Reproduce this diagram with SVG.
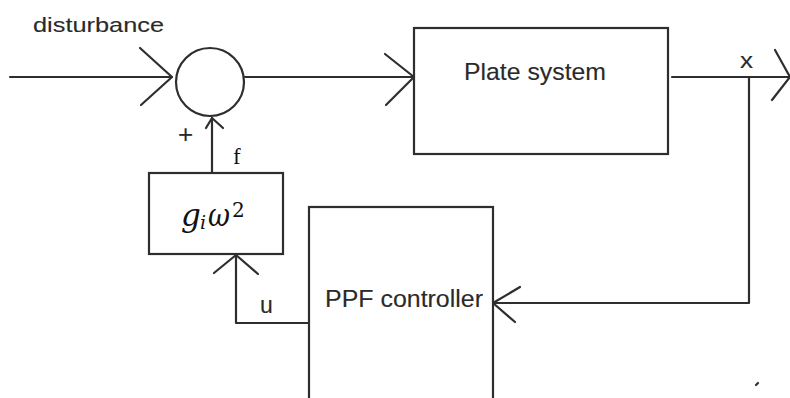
<svg xmlns="http://www.w3.org/2000/svg" width="790" height="398" viewBox="0 0 790 398">
<style>
.ln{fill:none;stroke:#2e2e2e;stroke-width:2.2;stroke-linecap:round;stroke-linejoin:round}
.box{fill:#fff;stroke:#2e2e2e;stroke-width:2.2}
.sans{font-family:"Liberation Sans",Arial,sans-serif;fill:#2a2a2a;stroke:#2a2a2a;stroke-width:0.12}
.serif{font-family:"DejaVu Serif","Liberation Serif",serif;fill:#111}
</style>
<rect width="790" height="398" fill="#fff"/>
<g id="connectors">
<path class="ln" d="M10 77 H172"/>
<path class="ln" d="M140 48 L172 77 L141 105"/>
<path class="ln" d="M245 77 H414"/>
<path class="ln" d="M385 54 L414 77 L386 105"/>
<path class="ln" d="M672 77 H790"/>
<path class="ln" d="M775 50 L790 77 L772 100"/>
<path class="ln" d="M749 77 V303 H493"/>
<path class="ln" d="M520 287 L493 303 L515 322"/>
<path class="ln" d="M212 173 V118"/>
<path class="ln" d="M206 128 L212 118 L223 128"/>
<path class="ln" d="M309 323 H236 V255"/>
<path class="ln" d="M214 273 L236 255 L258 274"/>
<path class="ln" d="M756 385 L758 383" stroke-width="1.5"/>
</g>
<g id="sum">
<circle class="box" cx="210" cy="82" r="34"/>
</g>
<g id="plate">
<rect class="box" x="414" y="28" width="254" height="126"/>
<text class="sans" x="464" y="80" font-size="24" textLength="142" lengthAdjust="spacingAndGlyphs">Plate system</text>
</g>
<g id="gain">
<rect class="box" x="149" y="173" width="134" height="81"/>
<text class="serif" font-style="italic"><tspan x="181" y="226" font-size="31">g</tspan><tspan x="200" y="229" font-size="19">i</tspan><tspan x="208" y="226" font-size="31" textLength="22" lengthAdjust="spacingAndGlyphs">ω</tspan><tspan x="232" y="217" font-style="normal" font-size="20">2</tspan></text>
</g>
<g id="ppf">
<rect class="box" x="309" y="207" width="184" height="200"/>
<text class="sans" x="325" y="307" font-size="23" textLength="158" lengthAdjust="spacingAndGlyphs">PPF controller</text>
</g>
<g id="labels">
<text class="sans" x="33" y="32" font-size="21" textLength="131" lengthAdjust="spacingAndGlyphs">disturbance</text>
<text class="sans" x="740" y="68" font-size="22" textLength="13" lengthAdjust="spacingAndGlyphs">x</text>
<text class="sans" x="178" y="143" font-size="26">+</text>
<text x="233" y="164" font-size="23" font-family="Liberation Serif,serif" fill="#111">f</text>
<text class="sans" x="260" y="313" font-size="23">u</text>
</g>
</svg>
